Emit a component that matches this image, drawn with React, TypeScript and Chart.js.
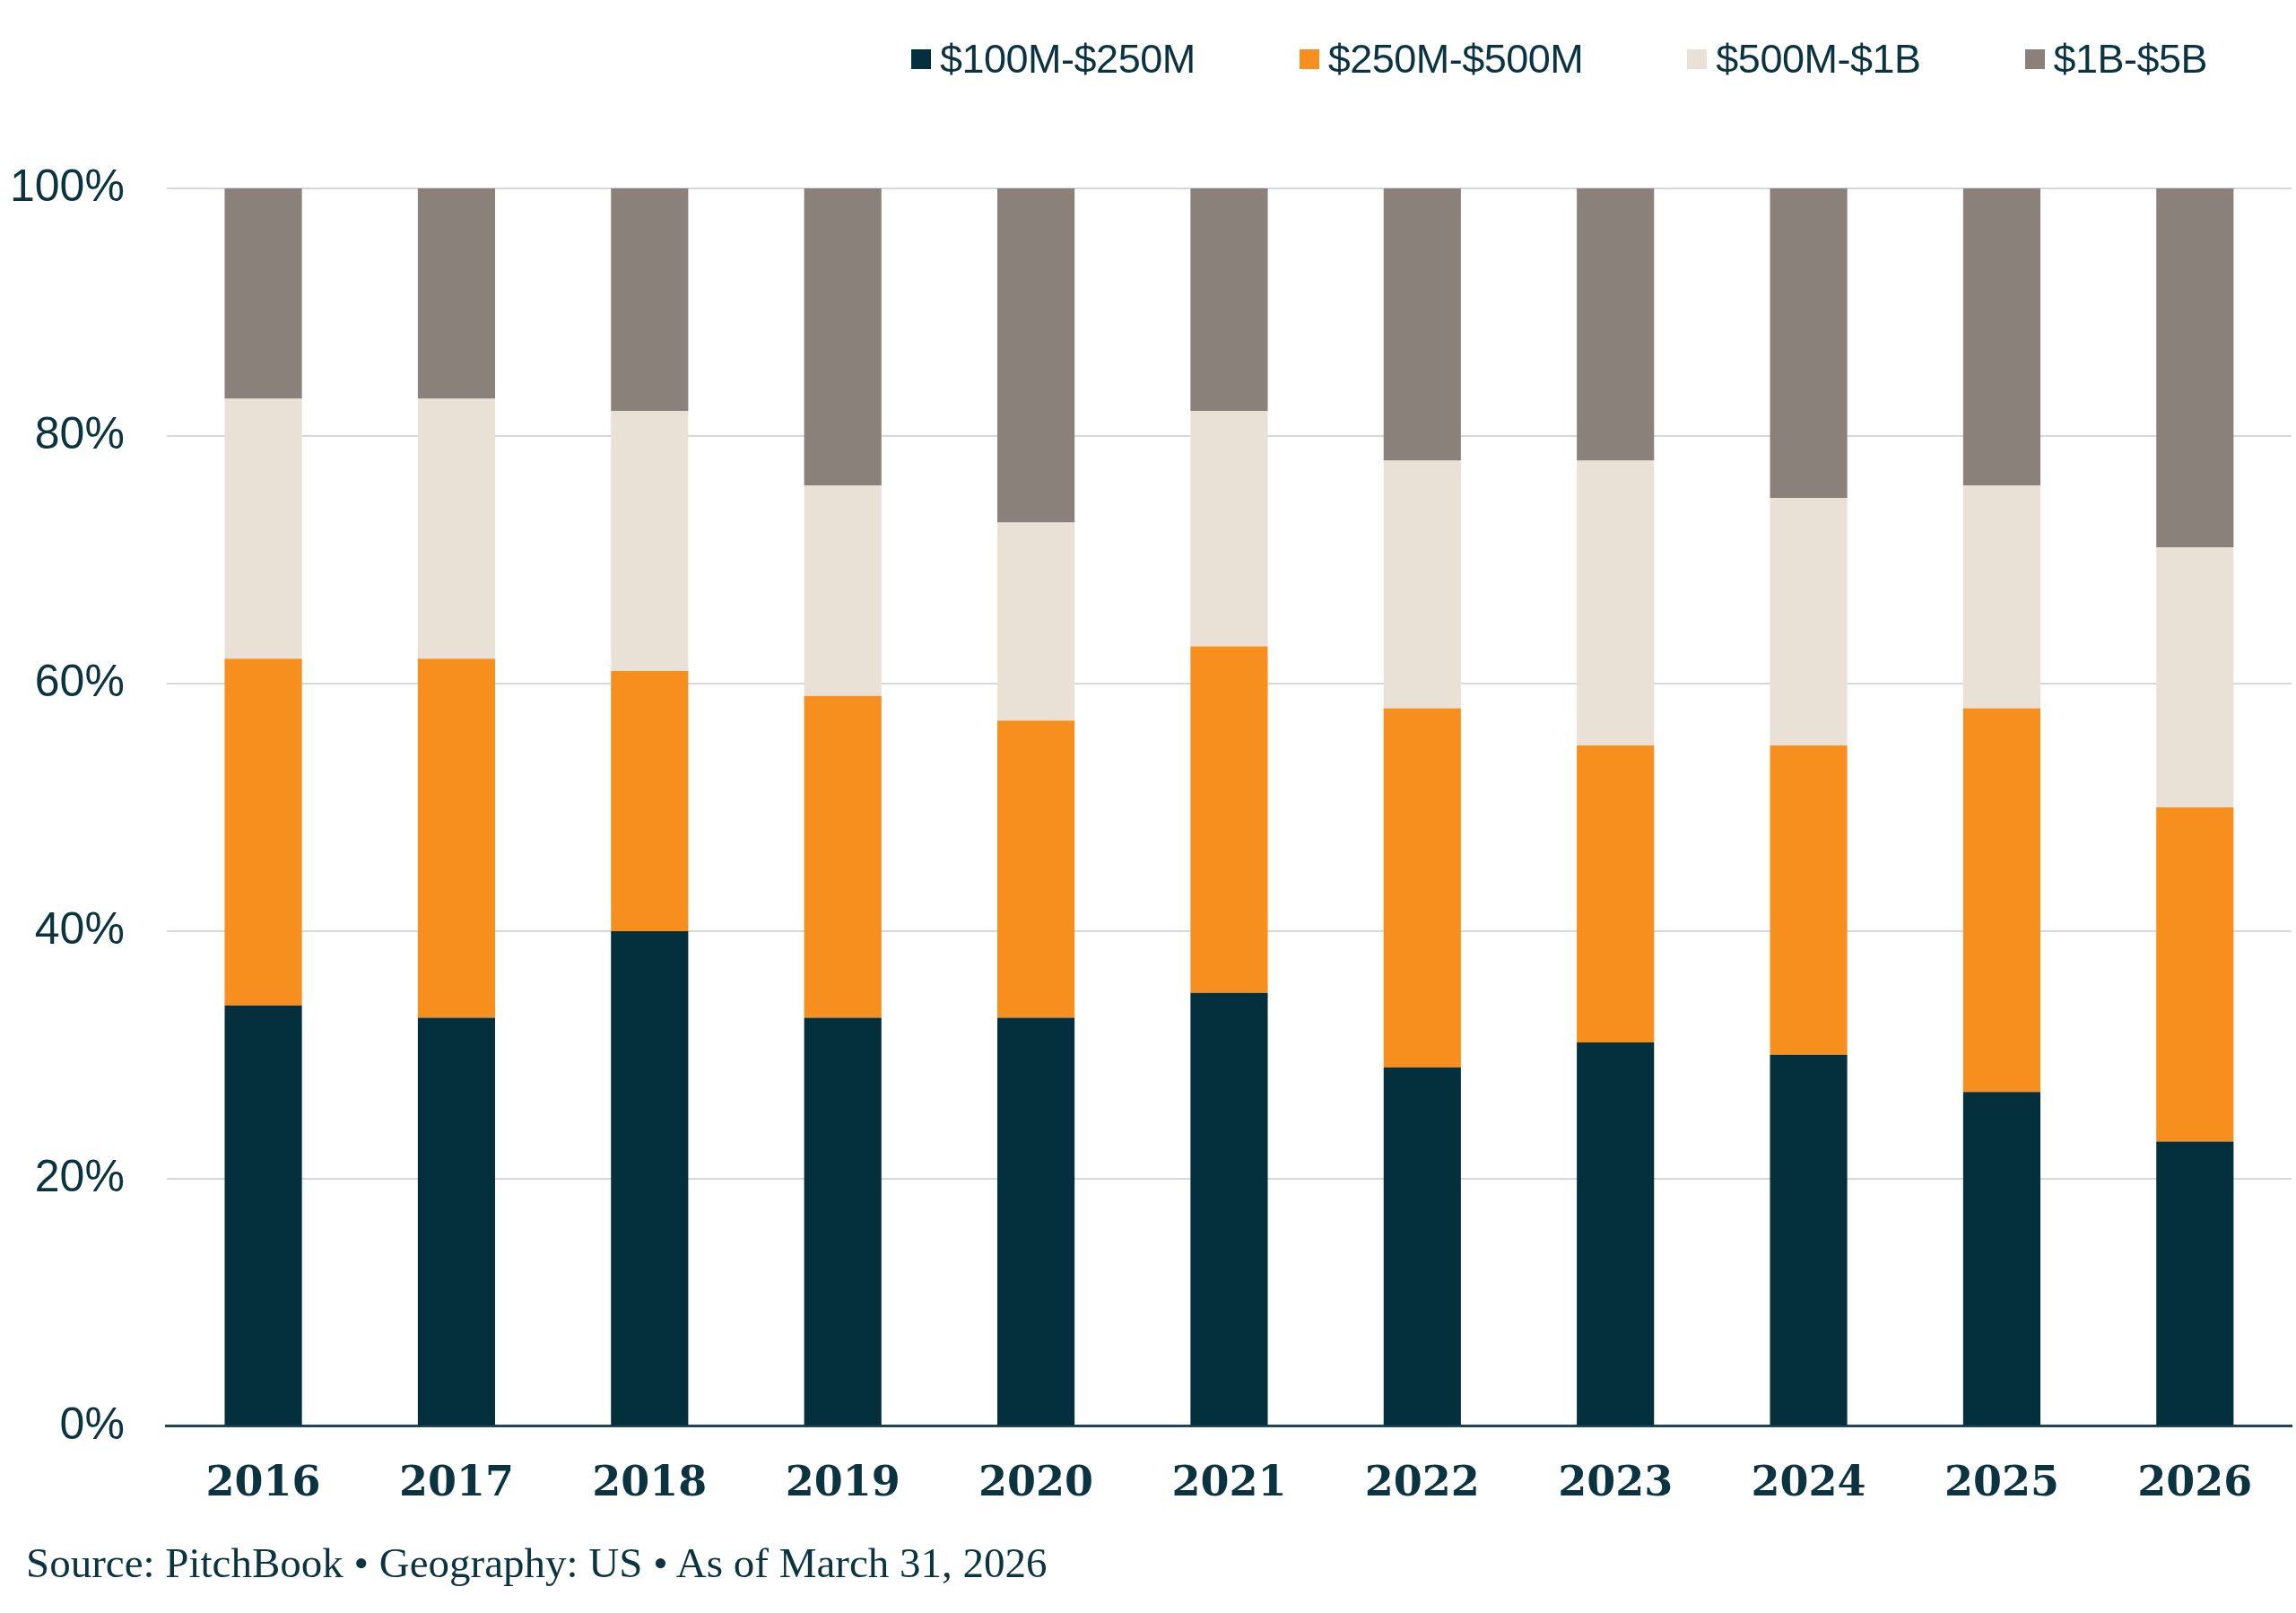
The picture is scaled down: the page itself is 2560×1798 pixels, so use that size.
import { useEffect, useRef } from 'react';
import { Chart, registerables } from 'chart.js';

Chart.register(...registerables);

const years = ['2016', '2017', '2018', '2019', '2020', '2021', '2022', '2023', '2024', '2025', '2026'];

// share of deal count per size bucket, in %
const small = [34, 33, 40, 33, 33, 35, 29, 31, 30, 27, 23];
const midSmall = [28, 29, 21, 26, 24, 28, 29, 24, 25, 31, 27];
const midLarge = [21, 21, 21, 17, 16, 19, 20, 23, 20, 18, 21];
const large = [17, 17, 18, 24, 27, 18, 22, 22, 25, 24, 29];

const seriesNames = ['$100M-$250M', '$250M-$500M', '$500M-$1B', '$1B-$5B'];
const seriesColors = ['#03303c', '#f78f1e', '#e9e1d5', '#8a817a'];

const yTicks = [0, 20, 40, 60, 80, 100];

const TEXT = '#0b3440';

export default function App() {
  const canvasRef = useRef<HTMLCanvasElement>(null);
  const chartRef = useRef<Chart | null>(null);

  useEffect(() => {
    if (!canvasRef.current) return;
    if (chartRef.current) chartRef.current.destroy();

    const values = [small, midSmall, midLarge, large];

    chartRef.current = new Chart(canvasRef.current, {
      type: 'bar',
      data: {
        labels: years,
        datasets: values.map((data, i) => ({
          label: seriesNames[i],
          data,
          backgroundColor: seriesColors[i],
          borderWidth: 0,
          categoryPercentage: 0.4,
          barPercentage: 1,
        })),
      },
      options: {
        animation: false,
        responsive: true,
        maintainAspectRatio: false,
        devicePixelRatio: 1,
        layout: {
          padding: { top: 210, left: 10, right: 5, bottom: 12 },
        },
        plugins: {
          legend: { display: false },
          tooltip: { enabled: false },
        },
        scales: {
          x: {
            stacked: true,
            grid: { display: false },
            border: { display: true, color: '#1f4552', width: 3 },
            ticks: {
              color: TEXT,
              padding: 30,
              font: { family: '"DejaVu Serif", serif', size: 46, weight: 'bold' },
            },
          },
          y: {
            stacked: true,
            min: 0,
            max: 100,
            afterBuildTicks: (axis) => {
              axis.ticks = yTicks.map((v) => ({ value: v }));
            },
            grid: { color: '#d5d8dc', lineWidth: 2, drawTicks: false },
            border: { display: false },
            ticks: {
              color: TEXT,
              padding: 47,
              font: { family: '"Liberation Sans", Arial, sans-serif', size: 50 },
              callback: (v) => v + '%',
            },
          },
        },
      },
    });

    return () => {
      if (chartRef.current) {
        chartRef.current.destroy();
        chartRef.current = null;
      }
    };
  }, []);

  return (
    <div
      style={{
        position: 'absolute',
        left: 0,
        top: 0,
        width: 2560,
        height: 1798,
        background: '#ffffff',
        overflow: 'hidden',
      }}
    >
      <div style={{ position: 'absolute', left: -46, top: 0, width: 2606, height: 1725 }}>
        <canvas ref={canvasRef}></canvas>
      </div>
      <div
        style={{
          position: 'absolute',
          left: 1016,
          top: 40,
          display: 'flex',
          alignItems: 'center',
          gap: 116,
          fontFamily: '"Liberation Sans", Arial, sans-serif',
          fontSize: 45,
          lineHeight: '52px',
          color: TEXT,
          letterSpacing: -0.5,
        }}
      >
        {seriesNames.map((name, i) => (
          <div key={name} style={{ display: 'flex', alignItems: 'center', gap: 10 }}>
            <span style={{ width: 22, height: 22, background: seriesColors[i], display: 'inline-block' }}></span>
            <span>{name}</span>
          </div>
        ))}
      </div>
      <div
        style={{
          position: 'absolute',
          left: 29,
          top: 1719,
          fontFamily: '"Liberation Serif", "Times New Roman", serif',
          fontSize: 47,
          lineHeight: 1,
          color: TEXT,
          whiteSpace: 'nowrap',
        }}
      >
        Source: PitchBook • Geography: US • As of March 31, 2026
      </div>
    </div>
  );
}
